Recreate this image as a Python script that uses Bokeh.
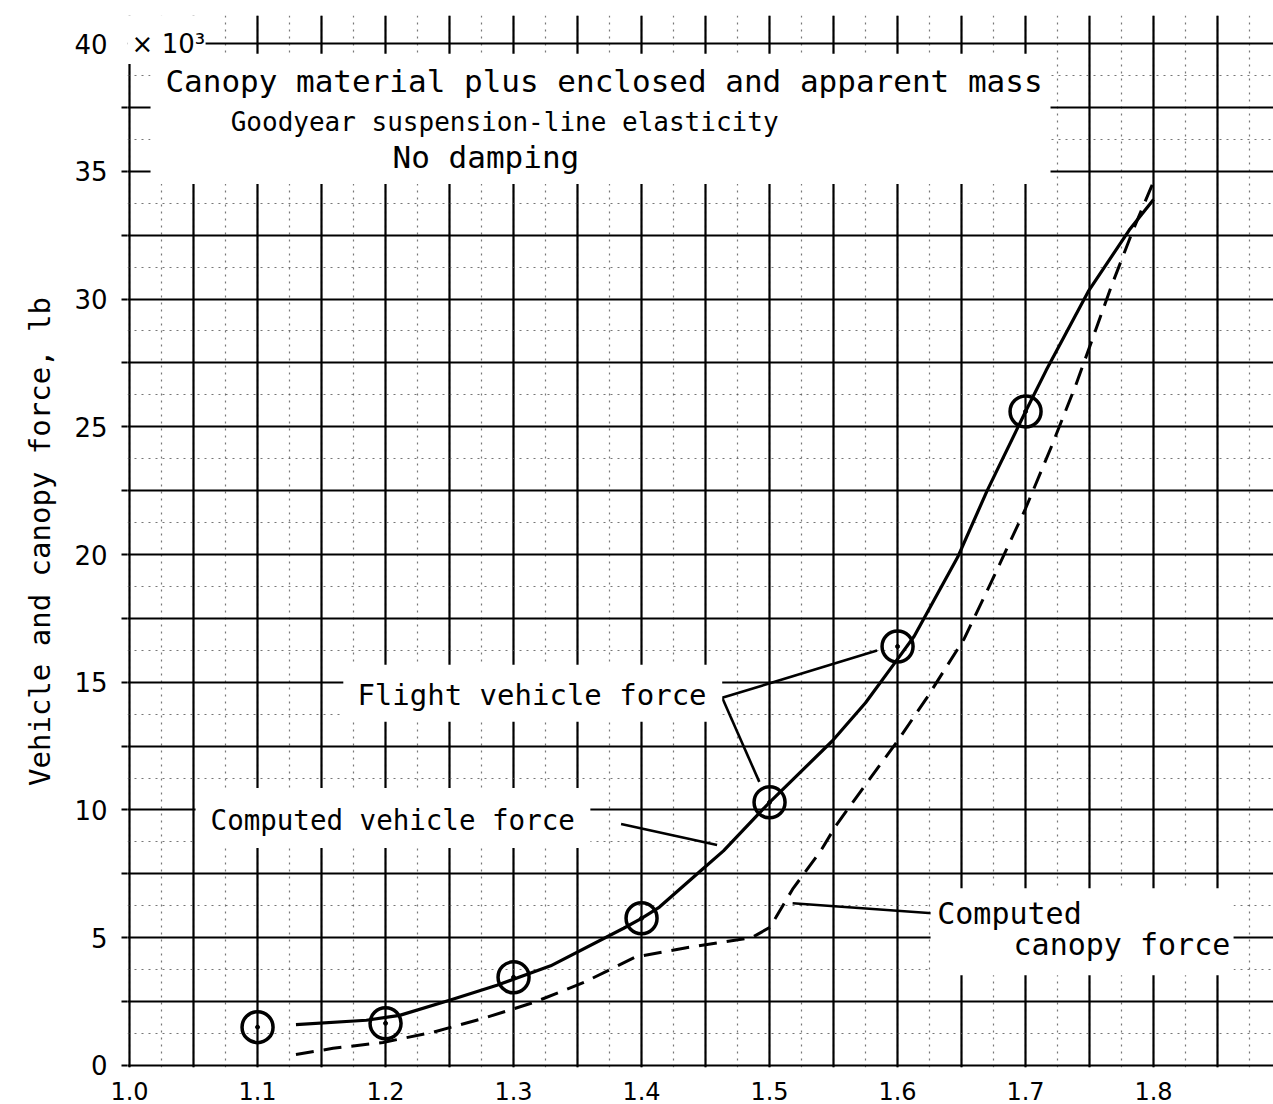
from bokeh.plotting import figure
from bokeh.models import (Label, Range1d, SingleIntervalTicker, FixedTicker,
                          BoxAnnotation)
from bokeh.embed import file_html
from bokeh.resources import INLINE

# ---------------- data ----------------
flight_x = [1.1, 1.2, 1.3, 1.4, 1.5, 1.6, 1.7]
flight_y = [1.5, 1.65, 3.45, 5.76, 10.3, 16.4, 25.6]

vehicle_x = [1.13, 1.185, 1.211, 1.25, 1.287, 1.329, 1.386, 1.4, 1.414, 1.448,
             1.464, 1.5, 1.549, 1.575, 1.597, 1.613, 1.647, 1.670, 1.7,
             1.716, 1.749, 1.781, 1.8]
vehicle_y = [1.6, 1.77, 1.96, 2.55, 3.14, 3.9, 5.37, 5.76, 6.2, 7.7,
             8.4, 10.3, 12.7, 14.2, 15.7, 16.8, 19.9, 22.5, 25.6,
             27.2, 30.3, 32.7, 33.9]

canopy_x = [1.13, 1.159, 1.198, 1.237, 1.276, 1.316, 1.355, 1.395, 1.434,
            1.486, 1.5, 1.505, 1.518, 1.54, 1.552, 1.578, 1.6, 1.623, 1.652,
            1.673, 1.7, 1.72, 1.739, 1.752, 1.767, 1.784, 1.8]
canopy_y = [0.43, 0.67, 0.9, 1.3, 1.84, 2.47, 3.25, 4.24, 4.6,
            5.0, 5.4, 5.8, 6.9, 8.4, 9.4, 11.2, 12.7, 14.4, 16.7,
            18.9, 21.8, 24.2, 26.6, 28.4, 30.5, 32.7, 34.6]

x_tick_values = [1.0, 1.1, 1.2, 1.3, 1.4, 1.5, 1.6, 1.7, 1.8]
x_tick_labels = ["1.0", "1.1", "1.2", "1.3", "1.4", "1.5", "1.6", "1.7", "1.8"]
y_tick_values = [0, 5, 10, 15, 20, 25, 30, 35, 40]
y_tick_labels = ["0", "5", "10", "15", "20", "25", "30", "35", "40"]
y_multiplier = "\u00d7 10\u00b3"

title_lines = ["Canopy material plus enclosed and apparent mass",
               "Goodyear suspension-line elasticity",
               "No damping"]
y_axis_title = "Vehicle and canopy force, lb"

# leader lines for annotations (x0, y0, x1, y1)
leaders = {
    "flight_a": (1.463, 14.39, 1.584, 16.24),
    "flight_b": (1.463, 14.39, 1.492, 11.1),
    "vehicle": (1.384, 9.45, 1.459, 8.63),
    "canopy": (1.518, 6.35, 1.627, 5.96),
}

MONO = "DejaVu Sans Mono"
SANS = "DejaVu Sans"

p = figure(width=1273, height=1104,
           x_range=Range1d(0.9984, 1.8937), y_range=Range1d(-0.08, 41.1),
           output_backend="svg", toolbar_location=None,
           min_border_left=127, min_border_right=0,
           min_border_top=15, min_border_bottom=37)
p.outline_line_color = None
p.background_fill_color = "white"
p.border_fill_color = "white"

# ---------------- grid (graph paper) ----------------
p.xgrid.ticker = SingleIntervalTicker(interval=0.05, num_minor_ticks=2)
p.ygrid.ticker = SingleIntervalTicker(interval=2.5, num_minor_ticks=2)
for g in (p.xgrid, p.ygrid):
    g.grid_line_color = "black"
    g.grid_line_width = 2.2
    g.grid_line_alpha = 1.0
    g.minor_grid_line_color = "#555555"
    g.minor_grid_line_width = 1.2
    g.minor_grid_line_dash = "2 5"
    g.minor_grid_line_alpha = 0.8

# ---------------- axes ----------------
xa = p.xaxis[0]
xa.ticker = FixedTicker(ticks=x_tick_values)
xa.major_label_overrides = {v: s for v, s in zip(x_tick_values, x_tick_labels)}
xa.axis_line_color = None
xa.major_tick_line_color = None
xa.minor_tick_line_color = None
xa.major_label_standoff = 8
xa.major_label_text_font = SANS
xa.major_label_text_font_size = "24px"
xa.major_label_text_color = "black"

ya = p.yaxis[0]
# short outward ticks at every heavy paper line below the top one
paper_ticks = [i * 2.5 for i in range(16)]
ya.ticker = FixedTicker(ticks=y_tick_values, minor_ticks=paper_ticks)
ya.major_label_overrides = {v: s for v, s in zip(y_tick_values, y_tick_labels)}
ya.axis_line_color = None
ya.major_tick_line_color = None
ya.minor_tick_line_color = "black"
ya.minor_tick_line_width = 2
ya.minor_tick_in = 0
ya.minor_tick_out = 6
ya.major_label_standoff = 14
ya.major_label_text_font = SANS
ya.major_label_text_font_size = "26px"
ya.major_label_text_color = "black"
ya.axis_label = y_axis_title
ya.axis_label_text_font = MONO
ya.axis_label_text_font_size = "29px"
ya.axis_label_text_font_style = "normal"
ya.axis_label_text_color = "black"
ya.axis_label_standoff = 14

# ---------------- white masks behind lettering ----------------
def mask(l, r, b, t):
    p.add_layout(BoxAnnotation(left=l, right=r, bottom=b, top=t,
                               fill_color="white", fill_alpha=1.0,
                               line_color=None))

mask(1.0164, 1.7195, 34.5, 39.6)     # title block
mask(0.99, 1.0594, 39.2, 41.2)       # "x 10^3"
mask(1.167, 1.463, 13.45, 15.69)     # Flight vehicle force
mask(1.0516, 1.360, 8.51, 10.86)     # Computed vehicle force
mask(1.6258, 1.8625, 3.53, 6.94)     # Computed canopy force

# ---------------- curves ----------------
p.line(vehicle_x, vehicle_y, line_color="black", line_width=3.2,
       line_join="round")
p.line(canopy_x, canopy_y, line_color="black", line_width=3.0,
       line_dash="18 10", line_join="round")
p.scatter(flight_x, flight_y, marker="circle", size=31, fill_color=None,
          line_color="black", line_width=3.5)
p.scatter(flight_x, flight_y, marker="circle", size=4, fill_color="black",
          line_color="black")

# leader lines
for k, (x0, y0, x1, y1) in leaders.items():
    p.line([x0, x1], [y0, y1], line_color="black", line_width=2.6)

# ---------------- lettering ----------------
def lab(x, y, text, size, font=MONO, align="left"):
    p.add_layout(Label(x=x, y=y, text=text, text_font=font,
                       text_font_size=size, text_align=align,
                       text_baseline="middle", text_color="black"))

lab(1.028, 38.55, title_lines[0], "31px")
lab(1.079, 36.95, title_lines[1], "26px")
lab(1.2055, 35.55, title_lines[2], "31px")
lab(1.178, 14.5, "Flight vehicle force", "29px")
lab(1.0633, 9.6, "Computed vehicle force", "27.5px")
lab(1.631, 5.96, "Computed", "30px")
lab(1.6906, 4.75, "canopy force", "30px")
lab(1.0016, 40.0, y_multiplier, "26px", font=SANS)

open("out.html", "w").write(file_html(p, INLINE))
